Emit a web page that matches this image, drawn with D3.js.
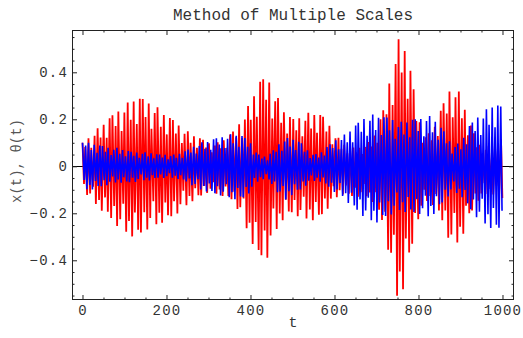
<!DOCTYPE html>
<html>
<head>
<meta charset="utf-8">
<script src="https://cdn.jsdelivr.net/npm/d3@7"></script>
<style>
  html, body { margin: 0; padding: 0; background: #fff; }
  svg { display: block; }
  text { font-family: "Liberation Mono", "Courier New", monospace; }
</style>
</head>
<body>
<div id="chart"></div>
<script>
// envelope samples (t, upper / lower extent of each trace)
const envT = [0, 20, 40, 60, 80, 100, 120, 140, 160, 180, 200, 220, 240, 260, 280, 300, 320, 340, 360, 380,
  400, 420, 440, 460, 480, 500, 520, 540, 560, 580, 600, 620, 640, 660, 680, 700, 720, 740, 750, 760, 780,
  800, 820, 840, 860, 880, 900, 920, 940, 960, 980, 1000];

const redHi = [0.10, 0.13, 0.17, 0.20, 0.23, 0.26, 0.29, 0.29, 0.27, 0.25, 0.22, 0.19, 0.16, 0.14, 0.12, 0.10, 0.10, 0.12, 0.15, 0.20,
  0.28, 0.36, 0.38, 0.31, 0.24, 0.20, 0.21, 0.23, 0.23, 0.20, 0.14, 0.10, 0.08, 0.08, 0.10, 0.15, 0.26, 0.45, 0.53, 0.57, 0.42,
  0.20, 0.13, 0.18, 0.27, 0.35, 0.31, 0.20, 0.10, 0.08, 0.10, 0.12];
const redLo = [-0.10, -0.14, -0.18, -0.21, -0.25, -0.28, -0.30, -0.29, -0.26, -0.25, -0.23, -0.21, -0.18, -0.15, -0.13, -0.11, -0.12, -0.13, -0.15, -0.22,
  -0.31, -0.39, -0.39, -0.28, -0.22, -0.20, -0.22, -0.23, -0.23, -0.19, -0.14, -0.12, -0.13, -0.13, -0.13, -0.17, -0.27, -0.49, -0.57, -0.55, -0.38,
  -0.22, -0.15, -0.17, -0.25, -0.35, -0.32, -0.22, -0.15, -0.12, -0.12, -0.14];

const blueHi = [0.10, 0.10, 0.09, 0.08, 0.08, 0.07, 0.06, 0.06, 0.06, 0.05, 0.05, 0.05, 0.06, 0.08, 0.10, 0.11, 0.12, 0.13, 0.14, 0.13,
  0.10, 0.05, 0.04, 0.08, 0.12, 0.12, 0.10, 0.06, 0.05, 0.08, 0.11, 0.13, 0.16, 0.19, 0.22, 0.22, 0.21, 0.20, 0.19, 0.19, 0.20,
  0.20, 0.22, 0.20, 0.15, 0.09, 0.10, 0.17, 0.21, 0.24, 0.27, 0.25];
const blueLo = [-0.10, -0.10, -0.09, -0.08, -0.07, -0.07, -0.07, -0.06, -0.06, -0.05, -0.05, -0.05, -0.06, -0.08, -0.10, -0.11, -0.12, -0.13, -0.14, -0.14,
  -0.11, -0.06, -0.05, -0.10, -0.15, -0.12, -0.10, -0.07, -0.06, -0.08, -0.11, -0.13, -0.17, -0.20, -0.23, -0.24, -0.22, -0.20, -0.19, -0.19, -0.20,
  -0.20, -0.22, -0.20, -0.15, -0.11, -0.12, -0.18, -0.22, -0.25, -0.27, -0.27];

// relative height of successive spikes and relative spacing between them (ragged look of the fast oscillation)
const spikeScale = [1, 0.7, 0.75, 1, 0.98, 0.85, 0.6, 0.58, 0.88, 0.98, 1, 0.8, 0.7, 1, 0.95, 0.66, 0.62, 0.92, 0.99, 0.97];
const stepScale = [1, 0.8, 1.25, 0.9, 1.1, 0.75, 1.2, 1, 0.85, 1.15, 0.95];
const redHalfPeriod = 3.6;
const blueHalfPeriod = 3.4;

const xMajor = [0, 200, 400, 600, 800, 1000];
const xMinor = [50, 100, 150, 250, 300, 350, 450, 500, 550, 650, 700, 750, 850, 900, 950];
const yMajor = [-0.4, -0.2, 0, 0.2, 0.4];
const yMinor = [-0.55, -0.5, -0.45, -0.35, -0.3, -0.25, -0.15, -0.1, -0.05, 0.05, 0.1, 0.15, 0.25, 0.3, 0.35, 0.45, 0.5, 0.55];

const W = 523, H = 338;
const frame = { left: 72, right: 514, top: 30, bottom: 300 };

const svg = d3.select('#chart').append('svg')
  .attr('width', W)
  .attr('height', H);

const x = d3.scaleLinear().domain([-25, 1027.4]).range([frame.left, frame.right]);
const y = d3.scaleLinear().domain([-0.569, 0.58]).range([frame.bottom, frame.top]);

svg.append('clipPath').attr('id', 'plot-clip')
  .append('rect')
  .attr('x', frame.left).attr('y', frame.top)
  .attr('width', frame.right - frame.left)
  .attr('height', frame.bottom - frame.top);

// zero axis line
svg.append('line')
  .attr('x1', frame.left).attr('x2', frame.right)
  .attr('y1', Math.round(y(0)) + 0.5).attr('y2', Math.round(y(0)) + 0.5)
  .attr('stroke', '#000')
  .attr('stroke-width', 1);

function buildTrace(hi, lo, half, offset) {
  const hiS = d3.scaleLinear().domain(envT).range(hi);
  const loS = d3.scaleLinear().domain(envT).range(lo);
  const pts = [];
  let t = 0;
  for (let k = 0; t <= 1000; k++) {
    const s = spikeScale[(k + offset) % spikeScale.length];
    const v = k === 0 ? hiS(0) : (k % 2 === 0 ? hiS(t) : loS(t)) * s;
    pts.push([t, v]);
    t += half * stepScale[(k + offset) % stepScale.length];
  }
  return pts;
}

const line = d3.line()
  .x(d => x(d[0]))
  .y(d => y(d[1]));

const plot = svg.append('g').attr('clip-path', 'url(#plot-clip)');

plot.append('path')
  .datum(buildTrace(redHi, redLo, redHalfPeriod, 0))
  .attr('fill', 'none')
  .attr('stroke', '#ff0000')
  .attr('stroke-width', 1.8)
  .attr('stroke-linejoin', 'bevel')
  .attr('d', line);

plot.append('path')
  .datum(buildTrace(blueHi, blueLo, blueHalfPeriod, 6))
  .attr('fill', 'none')
  .attr('stroke', '#0000ff')
  .attr('stroke-width', 1.6)
  .attr('stroke-linejoin', 'bevel')
  .attr('d', line);

// frame
svg.append('rect')
  .attr('x', frame.left + 0.5).attr('y', frame.top + 0.5)
  .attr('width', frame.right - frame.left - 1)
  .attr('height', frame.bottom - frame.top - 1)
  .attr('fill', 'none')
  .attr('stroke', '#222')
  .attr('stroke-width', 1);

function styleAxis(g) {
  g.select('.domain').remove();
  g.selectAll('line').attr('stroke', '#222');
  g.selectAll('text')
    .attr('fill', '#333')
    .style('font-size', '14px')
    .style('letter-spacing', '1.2px');
}

// bottom
svg.append('g')
  .attr('transform', `translate(0, ${frame.bottom})`)
  .call(d3.axisBottom(x).tickValues(xMajor).tickSizeInner(-5).tickSizeOuter(0).tickPadding(5).tickFormat(d3.format('d')))
  .call(styleAxis);
svg.append('g')
  .attr('transform', `translate(0, ${frame.bottom})`)
  .call(d3.axisBottom(x).tickValues(xMinor).tickSizeInner(-2.5).tickSizeOuter(0).tickFormat(''))
  .call(styleAxis);
// top
svg.append('g')
  .attr('transform', `translate(0, ${frame.top})`)
  .call(d3.axisTop(x).tickValues(xMajor).tickSizeInner(-5).tickSizeOuter(0).tickFormat(''))
  .call(styleAxis);
svg.append('g')
  .attr('transform', `translate(0, ${frame.top})`)
  .call(d3.axisTop(x).tickValues(xMinor).tickSizeInner(-2.5).tickSizeOuter(0).tickFormat(''))
  .call(styleAxis);
// left
svg.append('g')
  .attr('transform', `translate(${frame.left}, 0)`)
  .call(d3.axisLeft(y).tickValues(yMajor).tickSizeInner(-5).tickSizeOuter(0).tickPadding(4).tickFormat(d => d === 0 ? '0' : d3.format('.1f')(d)))
  .call(styleAxis);
svg.append('g')
  .attr('transform', `translate(${frame.left}, 0)`)
  .call(d3.axisLeft(y).tickValues(yMinor).tickSizeInner(-2.5).tickSizeOuter(0).tickFormat(''))
  .call(styleAxis);
// right
svg.append('g')
  .attr('transform', `translate(${frame.right}, 0)`)
  .call(d3.axisRight(y).tickValues(yMajor).tickSizeInner(-5).tickSizeOuter(0).tickFormat(''))
  .call(styleAxis);
svg.append('g')
  .attr('transform', `translate(${frame.right}, 0)`)
  .call(d3.axisRight(y).tickValues(yMinor).tickSizeInner(-2.5).tickSizeOuter(0).tickFormat(''))
  .call(styleAxis);

// title
svg.append('text')
  .attr('x', (frame.left + frame.right) / 2)
  .attr('y', 19.5)
  .attr('text-anchor', 'middle')
  .attr('fill', '#333')
  .style('font-size', '16px')
  .text('Method of Multiple Scales');

// x label
svg.append('text')
  .attr('x', 293)
  .attr('y', 327)
  .attr('text-anchor', 'middle')
  .attr('fill', '#333')
  .style('font-size', '15px')
  .text('t');

// y label
svg.append('text')
  .attr('transform', `translate(21, ${(frame.top + frame.bottom) / 2 - 4}) rotate(-90)`)
  .attr('text-anchor', 'middle')
  .attr('fill', '#555')
  .style('font-size', '14px')
  .text('x(t), θ(t)');
</script>
</body>
</html>
